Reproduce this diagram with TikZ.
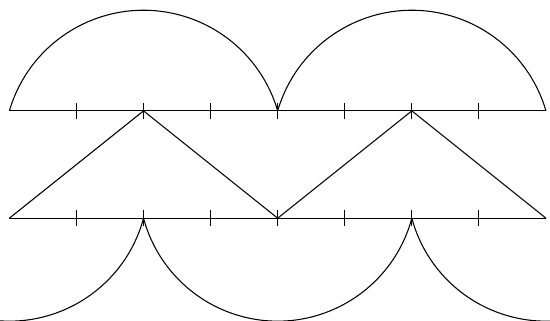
\documentclass[tikz,border=0pt]{standalone}
\usepackage{tikz}
\begin{document}
\begin{tikzpicture}[x=1cm,y=1cm,line width=0.45pt]
\path[use as bounding box] (-0.14,-3.118) rectangle (8.06,1.653);
\clip (-0.14,-3.118) rectangle (8.06,1.653);

% two number lines with ticks
\foreach \y in {0,-1.6}{
  \draw (0,\y) -- (8,\y);
  \foreach \x in {1,...,7}{\draw (\x,\y-0.12) -- (\x,\y+0.12);}
}

% upper arches
\foreach \x in {0,4}{\draw (\x,0) arc[start angle=163.74,end angle=16.26,radius=2.0833];}

% zigzag between the lines
\draw (0,-1.6) -- (2,0) -- (4,-1.6) -- (6,0) -- (8,-1.6);

% hanging arches below
\foreach \x in {2,6,10}{\draw (\x,-1.6) arc[start angle=-15,end angle=-165,radius=2.0706];}
\end{tikzpicture}
\end{document}
